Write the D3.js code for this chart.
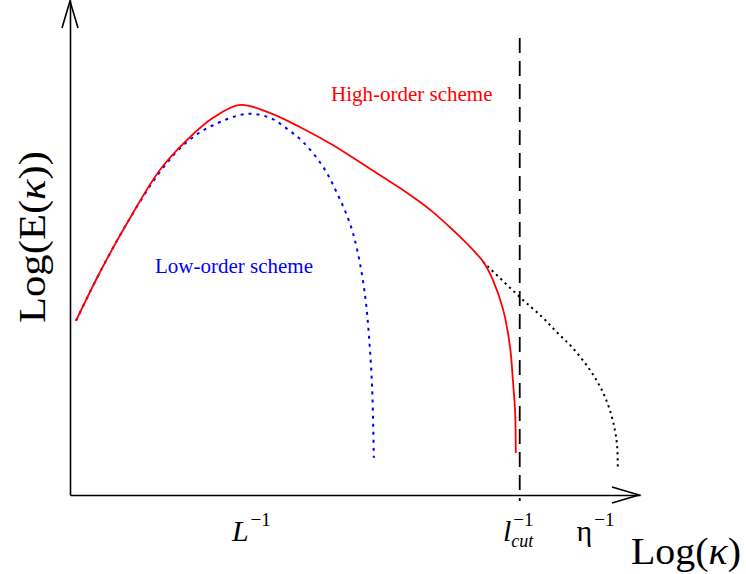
<!DOCTYPE html>
<html>
<head>
<meta charset="utf-8">
<script src="https://cdn.jsdelivr.net/npm/d3@7"></script>
<style>
  html, body { margin: 0; padding: 0; background: #fff; }
  svg { display: block; font-family: "Liberation Serif", "Times New Roman", serif; }
</style>
</head>
<body>
<svg id="chart" width="746" height="574"></svg>
<script>
// Energy spectrum sketch: log E(k) against log k, in arbitrary units (0..10 on both axes)

// High-order scheme spectrum (solid red)
const highOrderK = [0.105, 0.53, 1.0, 1.58, 2.05, 2.51, 2.98, 3.46, 4.04, 4.61, 5.21, 5.79, 6.32, 6.72, 7.07, 7.25, 7.42, 7.60, 7.72, 7.77, 7.81, 7.82];
const highOrderE = [3.52, 4.51, 5.49, 6.57, 7.17, 7.62, 7.88, 7.74, 7.43, 7.07, 6.63, 6.20, 5.76, 5.35, 4.95, 4.71, 4.34, 3.74, 2.99, 2.32, 1.66, 0.85];

// Low-order scheme spectrum (dotted blue)
const lowOrderK = [0.105, 0.53, 1.0, 1.58, 2.05, 2.51, 3.11, 3.51, 3.77, 4.09, 4.44, 4.70, 4.91, 5.05, 5.18, 5.25, 5.30, 5.33];
const lowOrderE = [3.52, 4.51, 5.49, 6.53, 7.13, 7.47, 7.70, 7.62, 7.43, 7.13, 6.63, 6.06, 5.49, 4.89, 4.00, 3.13, 2.18, 0.75];

// Fully resolved spectrum beyond the cut-off (dotted black)
const resolvedK = [7.25, 7.89, 8.28, 8.54, 8.82, 9.12, 9.33, 9.47, 9.56, 9.60, 9.61];
const resolvedE = [4.71, 4.00, 3.60, 3.29, 2.97, 2.53, 2.12, 1.72, 1.31, 0.97, 0.57];

// Cut-off wavenumber marked by the dashed vertical line
const cutoffK = 7.89;
const cutoffTop = 9.23;

// Tick labels on the k axis: base, superscript, subscript, position
const tickBase = ["L", "l", "η"];
const tickSup = ["−1", "−1", "−1"];
const tickSub = ["", "cut", ""];
const tickItalic = [true, true, false];
const tickPos = [3.19, 7.87, 9.22];

const svg = d3.select("#chart");

const x = d3.scaleLinear().domain([0, 10]).range([70, 640]);
const y = d3.scaleLinear().domain([0, 10]).range([495, 0]);

// Axes: plain lines with open arrowheads
svg.append("g")
  .attr("transform", `translate(0,${y(0)})`)
  .call(d3.axisBottom(x).tickValues([]).tickSizeOuter(0))
  .call(g => g.select(".domain").attr("stroke", "#000").attr("stroke-width", 1.6));

svg.append("g")
  .attr("transform", `translate(${x(0)},0)`)
  .call(d3.axisLeft(y).tickValues([]).tickSizeOuter(0))
  .call(g => g.select(".domain").attr("stroke", "#000").attr("stroke-width", 1.6));

const arrow = svg.append("g").attr("fill", "none").attr("stroke", "#000").attr("stroke-width", 1.6);
arrow.append("path").attr("d", `M${x(0) - 8},${y(10) + 28}L${x(0)},${y(10) + 1}L${x(0) + 8},${y(10) + 28}`);
arrow.append("path").attr("d", `M${x(10) - 28},${y(0) - 8}L${x(10) - 1},${y(0)}L${x(10) - 28},${y(0) + 8}`);

// Dashed cut-off line
svg.append("line")
  .attr("x1", x(cutoffK)).attr("x2", x(cutoffK))
  .attr("y1", y(cutoffTop)).attr("y2", y(0) + 6)
  .attr("stroke", "#000").attr("stroke-width", 1.8)
  .attr("stroke-dasharray", "15,8");

const line = d3.line()
  .x(d => x(d[0]))
  .y(d => y(d[1]))
  .curve(d3.curveCatmullRom.alpha(0.5));

const zip = (a, b) => a.map((v, i) => [v, b[i]]);

svg.append("path")
  .datum(zip(resolvedK, resolvedE))
  .attr("d", line)
  .attr("fill", "none").attr("stroke", "#000").attr("stroke-width", 2)
  .attr("stroke-dasharray", "2.2,3.8");

svg.append("path")
  .datum(zip(lowOrderK, lowOrderE))
  .attr("d", line)
  .attr("fill", "none").attr("stroke", "#0000ff").attr("stroke-width", 2)
  .attr("stroke-dasharray", "3,5");

svg.append("path")
  .datum(zip(highOrderK, highOrderE))
  .attr("d", line)
  .attr("fill", "none").attr("stroke", "#ff0000").attr("stroke-width", 1.8);

// Curve annotations
svg.append("text")
  .attr("x", 331).attr("y", 101)
  .attr("fill", "#ff0000").attr("font-size", 21)
  .text("High-order scheme");

svg.append("text")
  .attr("x", 155).attr("y", 273)
  .attr("fill", "#0000ff").attr("font-size", 21)
  .text("Low-order scheme");

// k-axis tick labels
svg.append("g").selectAll("text")
  .data(tickPos.map((p, i) => ({ p, base: tickBase[i], sup: tickSup[i], sub: tickSub[i], it: tickItalic[i] })))
  .join("text")
  .attr("y", 541)
  .attr("font-size", 30)
  .each(function (d) {
    const t = d3.select(this);
    t.append("tspan").attr("font-style", d.it ? "italic" : "normal").text(d.base);
    const sup = t.append("tspan").attr("font-size", 19).attr("dy", -15).attr("dx", 2).text(d.sup);
    if (d.sub) {
      const sw = sup.node().getComputedTextLength();
      t.append("tspan").attr("font-size", 18).attr("font-style", "italic")
        .attr("dx", -sw - 2).attr("dy", 21).text(d.sub);
    }
    const w = this.getBBox().width;
    t.attr("x", x(d.p) - w / 2);
  });

// Axis titles
svg.append("text")
  .attr("x", 631).attr("y", 564)
  .attr("font-size", 37)
  .attr("textLength", 110).attr("lengthAdjust", "spacingAndGlyphs")
  .html("Log(<tspan font-style='italic'>κ</tspan>)");

svg.append("text")
  .attr("transform", "translate(45,237) rotate(-90)")
  .attr("text-anchor", "middle")
  .attr("font-size", 38)
  .attr("textLength", 172).attr("lengthAdjust", "spacingAndGlyphs")
  .html("Log(E(<tspan font-style='italic'>κ</tspan>))");
</script>
</body>
</html>
